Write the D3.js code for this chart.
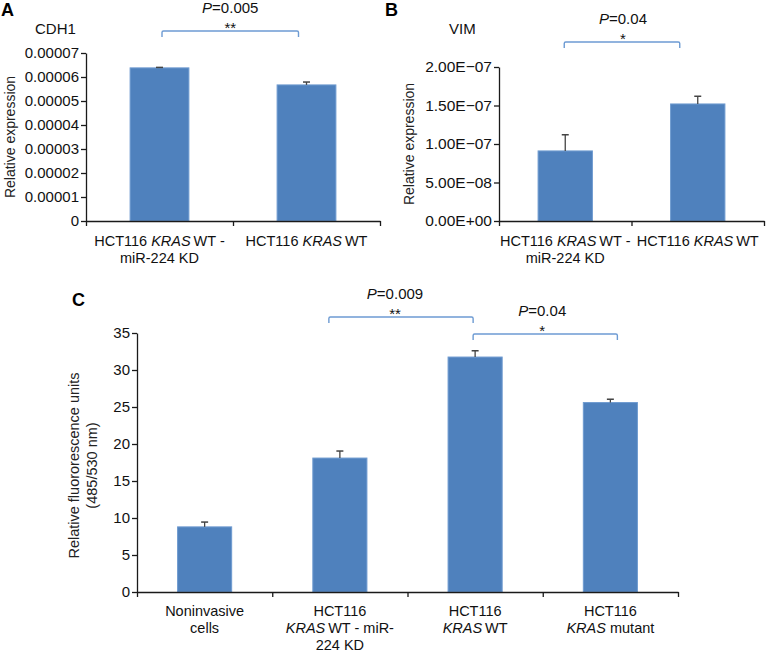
<!DOCTYPE html>
<html>
<head>
<meta charset="utf-8">
<script src="https://cdn.jsdelivr.net/npm/d3@7/dist/d3.min.js"></script>
<style>
  html, body { margin: 0; padding: 0; background: #fff; }
  svg { display: block; font-family: "Liberation Sans", Arial, Helvetica, sans-serif; }
</style>
</head>
<body>
<svg id="chart" width="768" height="653"></svg>
<script>
// ---------- DATA ----------
// Panel A: CDH1
const catsA = [["HCT116 *KRAS*\u2009WT -", "miR-224 KD"], ["HCT116 *KRAS*\u2009WT"]];
const valuesA = [0.0000638, 0.0000567];
const errorsA = [0.0000002, 0.0000012];
const ticksA = [0, 0.00001, 0.00002, 0.00003, 0.00004, 0.00005, 0.00006, 0.00007];
const tickLabelsA = ["0", "0.00001", "0.00002", "0.00003", "0.00004", "0.00005", "0.00006", "0.00007"];

// Panel B: VIM
const catsB = [["HCT116 *KRAS*\u2009WT -", "miR-224 KD"], ["HCT116 *KRAS*\u2009WT"]];
const valuesB = [9.1e-8, 1.52e-7];
const errorsB = [2.1e-8, 1.0e-8];
const ticksB = [0, 5e-8, 1e-7, 1.5e-7, 2e-7];
const tickLabelsB = ["0.00E+00", "5.00E\u221208", "1.00E\u221207", "1.50E\u221207", "2.00E\u221207"];

// Panel C: invasion
const catsC = [["Noninvasive", "cells"], ["HCT116", "*KRAS*\u2009WT - miR-", "224 KD"], ["HCT116", "*KRAS*\u2009WT"], ["HCT116", "*KRAS* mutant"]];
const valuesC = [8.8, 18.1, 31.75, 25.6];
const errorsC = [0.65, 0.95, 0.85, 0.45];
const ticksC = [0, 5, 10, 15, 20, 25, 30, 35];
const tickLabelsC = ["0", "5", "10", "15", "20", "25", "30", "35"];

// Significance annotations
const sigA = [{ from: 0, to: 1, p: "0.005", stars: "**" }];
const sigB = [{ from: 0, to: 1, p: "0.04", stars: "*" }];
const sigC = [{ from: 1, to: 2, p: "0.009", stars: "**" }, { from: 2, to: 3, p: "0.04", stars: "*" }];

// ---------- DRAWING ----------
const svg = d3.select("#chart");
const BAR = "#4f81bd", BAR_EDGE = "#6f9bd0", BRACKET = "#6d9bd3", AXIS = "#1a1a1a", ERR = "#444";

function addRich(textSel, str) {
  const parts = str.split("*");
  parts.forEach((p, i) => {
    if (!p.length) return;
    textSel.append("tspan").attr("font-style", i % 2 === 1 ? "italic" : "normal").text(p);
  });
}

function panel(cfg) {
  const g = svg.append("g");
  const n = cfg.cats.length;
  const x = d3.scaleBand().domain(d3.range(n)).range([cfg.left, cfg.right])
    .paddingInner(cfg.pad).paddingOuter(cfg.pad / 2);
  const y = d3.scaleLinear().domain([0, cfg.ymax]).range([cfg.bottom, cfg.top]);
  const xi = d3.scaleLinear().domain([0, n]).range([cfg.left, cfg.right]);

  // bars
  g.selectAll("rect.bar").data(cfg.values).join("rect")
    .attr("x", (d, i) => x(i)).attr("width", x.bandwidth())
    .attr("y", d => y(d)).attr("height", d => cfg.bottom - y(d))
    .attr("fill", BAR).attr("stroke", BAR_EDGE).attr("stroke-width", 1);

  // error bars (upper only)
  cfg.values.forEach((v, i) => {
    const cx = x(i) + x.bandwidth() / 2;
    const y1 = y(v), y2 = y(v + cfg.errors[i]);
    g.append("line").attr("x1", cx).attr("x2", cx).attr("y1", y1).attr("y2", y2)
      .attr("stroke", ERR).attr("stroke-width", 1.3);
    g.append("line").attr("x1", cx - 3.5).attr("x2", cx + 3.5).attr("y1", y2).attr("y2", y2)
      .attr("stroke", ERR).attr("stroke-width", 1.5);
  });

  // y axis
  const ya = g.append("g").attr("transform", `translate(${cfg.left},0)`)
    .call(d3.axisLeft(y).tickValues(cfg.ticks).tickSize(5).tickSizeOuter(0)
      .tickFormat((d, i) => cfg.tickLabels[i]));
  ya.select(".domain").attr("stroke", AXIS).attr("stroke-width", 1.3);
  ya.selectAll(".tick line").attr("stroke", AXIS).attr("stroke-width", 1.3);
  ya.selectAll(".tick text").attr("font-size", cfg.tickFont).attr("fill", "#111")
    .attr("font-family", "Liberation Sans, Arial, sans-serif").attr("x", -7);

  // x axis with boundary ticks
  const xa = g.append("g").attr("transform", `translate(0,${cfg.bottom})`)
    .call(d3.axisBottom(xi).tickValues(d3.range(n + 1)).tickSize(5).tickSizeOuter(0).tickFormat(""));
  xa.select(".domain").attr("stroke", AXIS).attr("stroke-width", 1.3);
  xa.selectAll(".tick line").attr("stroke", AXIS).attr("stroke-width", 1.3);

  // category labels
  cfg.cats.forEach((lines, i) => {
    const cx = x(i) + x.bandwidth() / 2;
    lines.forEach((ln, j) => {
      const t = g.append("text").attr("x", cx).attr("y", cfg.bottom + cfg.labelDy + j * 17)
        .attr("text-anchor", "middle").attr("font-size", cfg.labelFont).attr("fill", "#111");
      addRich(t, ln);
    });
  });

  // y title
  const yt = g.append("text").attr("transform", `translate(${cfg.ytitleX},${(cfg.top + cfg.bottom) / 2 + cfg.ytitleDy}) rotate(-90)`)
    .attr("text-anchor", "middle").attr("font-size", cfg.ytitleFont).attr("fill", "#222");
  cfg.ytitle.forEach((ln, j) => {
    yt.append("tspan").attr("x", 0).attr("dy", j === 0 ? 0 : 18).text(ln);
  });

  // gene label
  if (cfg.gene) {
    g.append("text").attr("x", cfg.gene.x).attr("y", cfg.gene.y).attr("font-size", 15)
      .attr("fill", "#111").text(cfg.gene.text);
  }
  // panel letter
  g.append("text").attr("x", cfg.letter.x).attr("y", cfg.letter.y).attr("font-size", 18)
    .attr("font-weight", "bold").attr("fill", "#000").text(cfg.letter.text);

  // significance brackets
  cfg.sig.forEach((s, k) => {
    const b = cfg.brackets[k];
    const x0 = x(s.from) + x.bandwidth() / 2 + b.dx0;
    const x1 = x(s.to) + x.bandwidth() / 2 + b.dx1;
    g.append("path")
      .attr("d", `M${x0},${b.y + 6} L${x0},${b.y + 1.5} Q${x0},${b.y} ${x0 + 1.5},${b.y} L${x1 - 1.5},${b.y} Q${x1},${b.y} ${x1},${b.y + 1.5} L${x1},${b.y + 6}`)
      .attr("fill", "none").attr("stroke", BRACKET).attr("stroke-width", 1.4);
    const mx = (x0 + x1) / 2 + b.tdx;
    const pt = g.append("text").attr("x", mx).attr("y", b.y - 18).attr("text-anchor", "middle")
      .attr("font-size", 15).attr("fill", "#111");
    pt.append("tspan").attr("font-style", "italic").text("P");
    pt.append("tspan").text("=" + s.p);
    g.append("text").attr("x", mx).attr("y", b.y + 2).attr("text-anchor", "middle")
      .attr("font-size", 15).attr("fill", "#111").text(s.stars);
  });
}

panel({
  cats: catsA, values: valuesA, errors: errorsA, ticks: ticksA, tickLabels: tickLabelsA,
  left: 86, right: 380, top: 53, bottom: 221, ymax: 0.00007, pad: 0.6,
  tickFont: 15, labelFont: 14.5, labelDy: 25,
  ytitle: ["Relative expression"], ytitleX: 15, ytitleDy: 0, ytitleFont: 14,
  gene: { text: "CDH1", x: 35, y: 34 }, letter: { text: "A", x: 1, y: 16 },
  sig: sigA, brackets: [{ y: 31, dx0: 2.5, dx1: -8, tdx: 0 }]
});

panel({
  cats: catsB, values: valuesB, errors: errorsB, ticks: ticksB, tickLabels: tickLabelsB,
  left: 499, right: 764, top: 67, bottom: 221, ymax: 2e-7, pad: 0.59,
  tickFont: 15.5, labelFont: 14.5, labelDy: 25,
  ytitle: ["Relative expression"], ytitleX: 414, ytitleDy: 0, ytitleFont: 14,
  gene: { text: "VIM", x: 449, y: 34 }, letter: { text: "B", x: 385, y: 16 },
  sig: sigB, brackets: [{ y: 42, dx0: -1, dx1: -18, tdx: 1 }]
});

panel({
  cats: catsC, values: valuesC, errors: errorsC, ticks: ticksC, tickLabels: tickLabelsC,
  left: 137, right: 678, top: 333, bottom: 592, ymax: 35, pad: 0.6,
  tickFont: 15, labelFont: 14.5, labelDy: 24,
  ytitle: ["Relative fluororescence units", "(485/530 nm)"], ytitleX: 79, ytitleDy: 3, ytitleFont: 14.5,
  gene: null, letter: { text: "C", x: 72, y: 306 },
  sig: sigC, brackets: [{ y: 317, dx0: -11, dx1: -2, tdx: -6 }, { y: 334, dx0: -2, dx1: 7, tdx: -3 }]
});
</script>
</body>
</html>
